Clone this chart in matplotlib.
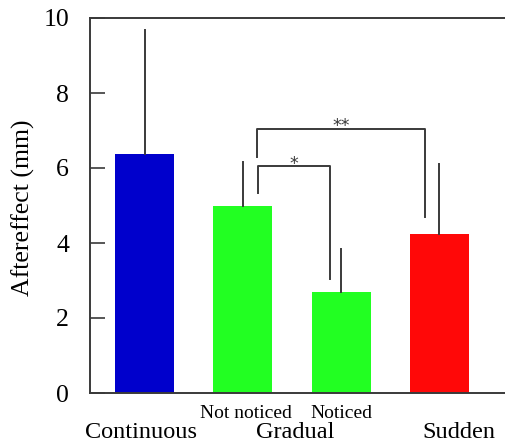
import matplotlib
matplotlib.use("Agg")
import matplotlib.pyplot as plt
import matplotlib.transforms as mtransforms

categories = ["Continuous", "Not noticed", "Noticed", "Sudden"]
means = [6.37, 5.0, 2.7, 4.23]
err_tops = [9.68, 6.15, 3.83, 6.12]
colors = ["#0000CC", "#22FF22", "#22FF22", "#FF0808"]
group_labels = ["Continuous", "Gradual", "Sudden"]
sub_labels = ["Not noticed", "Noticed"]
yticks = [0, 2, 4, 6, 8, 10]

plt.rcParams['font.family'] = ['Liberation Serif', 'DejaVu Serif']
line_c = "#3a3a3a"

fig = plt.figure(figsize=(5.05, 4.45), dpi=100)
ax = fig.add_axes([90/505, 1-393/445, 1-90/505+0.01, (393-18)/445])

x = list(range(len(categories)))
ax.bar(x, means, width=0.6, color=colors, zorder=2)
for xi, m, t in zip(x, means, err_tops):
    ax.plot([xi, xi], [m, t], color=line_c, lw=1.4, zorder=3)

ax.set_xlim(-0.557, 3.72)
ax.set_ylim(0, 10)
ax.set_yticks(yticks)
ax.set_yticklabels([str(v) for v in yticks])
ax.tick_params(axis='y', direction='in', length=11, width=1.2, color=line_c,
               labelsize=18.5, pad=15)
ax.set_xticks([])
for s in ['left', 'bottom', 'top']:
    ax.spines[s].set_color(line_c)
    ax.spines[s].set_linewidth(1.4)
ax.spines['right'].set_visible(False)
ax.set_ylabel("Aftereffect (mm)", fontsize=18.5)
ax.yaxis.set_label_coords(-0.131, 0.493)

# significance brackets
star_font = dict(family='DejaVu Sans', fontsize=12.5, color=line_c, ha='center', va='center')
ax.plot([1.155, 1.155, 1.887, 1.887], [5.33, 6.05, 6.05, 3.04], color=line_c, lw=1.4, zorder=3)
ax.text((1.155+1.887)/2, 6.12, "*", **star_font)
ax.plot([1.144, 1.144, 2.856, 2.856], [6.29, 7.04, 7.04, 4.69], color=line_c, lw=1.4, zorder=3)
ax.text((1.144+2.856)/2, 7.12, "**", **star_font)

# category labels
trans = mtransforms.blended_transform_factory(ax.transData, fig.transFigure)
ax.text(1.03, 1-414/445, sub_labels[0], transform=trans, ha='center', va='center', fontsize=14)
ax.text(2.0, 1-414/445, sub_labels[1], transform=trans, ha='center', va='center', fontsize=14)
ax.text(-0.04, 1-432/445, group_labels[0], transform=trans, ha='center', va='center', fontsize=17.5)
ax.text(1.53, 1-432/445, group_labels[1], transform=trans, ha='center', va='center', fontsize=17.5)
ax.text(3.2, 1-432/445, group_labels[2], transform=trans, ha='center', va='center', fontsize=17.5)

fig.savefig("out.png", dpi=100)
